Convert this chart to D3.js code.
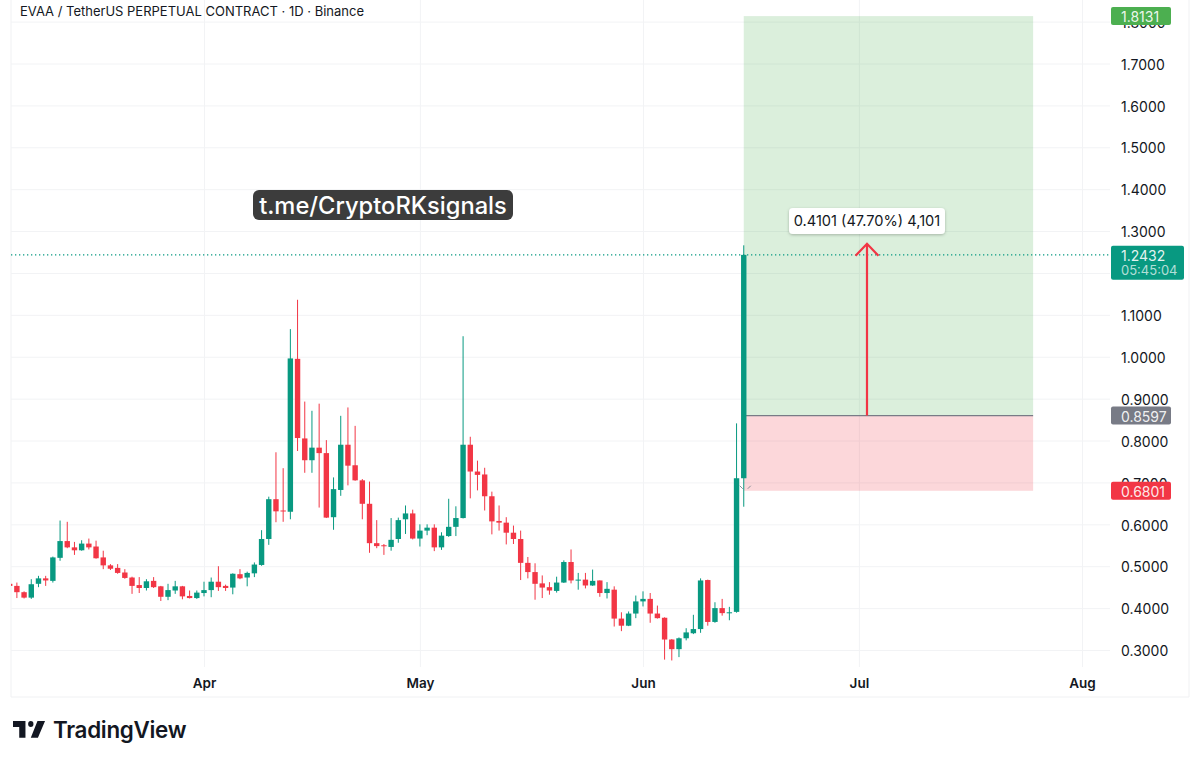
<!DOCTYPE html>
<html>
<head>
<meta charset="utf-8">
<script src="https://cdn.jsdelivr.net/npm/d3@7"></script>
<style>
  html, body { margin: 0; padding: 0; background: #fff; }
  text { font-family: Inter, "Noto Sans", sans-serif; }
</style>
</head>
<body>
<div id="chart"></div>
<script>
// daily candles, Mar 5 to Jun 15
const firstDay = new Date(Date.UTC(2025, 2, 5));

const opens = [
  .458, .453, .438, .425, .458, .471, .465, .520, .560, .545, .538, .554, .547, .521, .502, .496, .485, .473, .455, .448, .465, .452, .427, .442, .452, .429, .424,
  .436, .443, .463, .453, .449, .481, .473, .483, .503, .565, .660, .633, .630, .995, .805, .753, .783, .770, .617, .682, .790, .741, .705, .649, .555, .550, .546, .565, .612, .626,
  .566, .585, .592, .545, .572, .594, .615, .790, .726, .719, .667, .608, .604, .580, .565, .508, .486, .459, .450, .441, .461, .510, .466, .468, .454, .466, .436, .444, .375, .358, .387,
  .416, .422, .387, .377, .325, .302, .328, .340, .350, .467, .367, .400, .388, .391, .710
];
const closes = [
  .453, .438, .425, .457, .471, .466, .521, .560, .545, .538, .554, .545, .519, .502, .494, .484, .472, .453, .448, .464, .450, .427, .443, .452, .428, .424, .437,
  .443, .463, .450, .448, .482, .471, .484, .504, .565, .660, .631, .631, .996, .806, .753, .783, .770, .616, .684, .790, .740, .705, .649, .555, .548, .548, .563, .610, .626, .566,
  .585, .592, .545, .573, .594, .615, .790, .726, .718, .667, .607, .604, .580, .565, .508, .486, .458, .449, .442, .461, .510, .466, .468, .454, .465, .436, .446, .375, .358, .387, .416,
  .422, .387, .376, .325, .302, .328, .342, .350, .466, .367, .400, .388, .390, .710, 1.2432
];
const highs = [
  .459, .461, .440, .469, .477, .477, .523, .609, .606, .558, .562, .566, .561, .537, .505, .505, .493, .475, .474, .469, .474, .453, .458, .465, .453, .442, .442,
  .463, .473, .500, .456, .483, .493, .487, .509, .586, .666, .772, .734, 1.066, 1.136, .893, .871, .888, .801, .712, .859, .879, .835, .708, .702, .610, .553, .615, .616, .645, .635,
  .600, .600, .600, .581, .661, .643, 1.049, .809, .752, .735, .678, .645, .617, .597, .585, .522, .507, .478, .462, .475, .514, .540, .484, .484, .492, .466, .462, .452, .390, .392, .430,
  .440, .436, .406, .378, .326, .330, .352, .384, .471, .468, .414, .422, .403, .841, 1.266
];
const lows = [
  .452, .424, .423, .422, .450, .453, .461, .513, .543, .527, .537, .540, .518, .493, .491, .482, .470, .434, .436, .442, .448, .417, .419, .434, .421, .423, .422,
  .428, .426, .441, .441, .433, .469, .452, .474, .501, .551, .605, .606, .612, .775, .723, .723, .640, .615, .587, .668, .693, .704, .612, .532, .543, .527, .537, .556, .577, .564,
  .547, .574, .536, .539, .570, .572, .614, .662, .681, .633, .576, .585, .552, .553, .467, .471, .420, .424, .432, .437, .460, .459, .444, .447, .453, .427, .423, .356, .345, .357, .376,
  .404, .365, .375, .277, .275, .283, .323, .338, .341, .358, .365, .382, .371, .389, .642
];

const priceTicks = [0.3, 0.4, 0.5, 0.6, 0.7, 0.8, 0.9, 1.0, 1.1, 1.2, 1.3, 1.4, 1.5, 1.6, 1.7, 1.8];
const hiddenTick = 1.2; // sits behind the last price tag
const monthTicks = [new Date(Date.UTC(2025, 3, 1)), new Date(Date.UTC(2025, 4, 1)), new Date(Date.UTC(2025, 5, 1)), new Date(Date.UTC(2025, 6, 1)), new Date(Date.UTC(2025, 7, 1))];

// long position tool
const lastPrice = 1.2432, entry = 0.8597, target = 1.8131, stop = 0.6801;
const toolStart = new Date(Date.UTC(2025, 5, 15)), toolEnd = new Date(Date.UTC(2025, 6, 25, 5));
const arrowTop = 1.2695, arrowDay = new Date(Date.UTC(2025, 6, 2, 3));

const width = 1200, height = 761;
const green = "#089981", red = "#f23645";

const svg = d3.select("#chart").append("svg")
  .attr("width", width)
  .attr("height", height)
  .style("display", "block");

const x = d3.scaleUtc().domain([monthTicks[0], monthTicks[4]]).range([204, 1082]);
const y = d3.scaleLinear().domain([0.3, 1.7]).range([650, 63.5]);

svg.append("defs").append("clipPath").attr("id", "pane")
  .append("rect").attr("x", 11).attr("y", 0).attr("width", 1099).attr("height", 667);

const candles = opens.map((o, i) => ({
  day: d3.utcDay.offset(firstDay, i), o, c: closes[i], h: highs[i], l: lows[i]
}));

// pane border
svg.append("path")
  .attr("d", "M11,0V697H1189V0")
  .attr("fill", "none")
  .attr("stroke", "#f0f1f3");

// grid
const gridY = svg.append("g").attr("transform", "translate(11,0)")
  .call(d3.axisRight(y).tickValues(priceTicks).tickSize(1099).tickFormat(""));
gridY.select(".domain").remove();
gridY.selectAll("line").attr("stroke", "#f2f3f5");

const gridX = svg.append("g").attr("transform", "translate(0,0)")
  .call(d3.axisBottom(x).tickValues(monthTicks).tickSize(667).tickFormat(""));
gridX.select(".domain").remove();
gridX.selectAll("line").attr("stroke", "#f2f3f5");

// position zones
svg.append("rect")
  .attr("x", x(toolStart)).attr("width", x(toolEnd) - x(toolStart))
  .attr("y", y(target)).attr("height", y(entry) - y(target))
  .attr("fill", "rgba(76,175,80,0.2)");
svg.append("rect")
  .attr("x", x(toolStart)).attr("width", x(toolEnd) - x(toolStart))
  .attr("y", y(entry)).attr("height", y(stop) - y(entry))
  .attr("fill", "rgba(242,54,69,0.2)");
svg.append("line")
  .attr("x1", x(toolStart)).attr("x2", x(toolEnd))
  .attr("y1", y(entry)).attr("y2", y(entry))
  .attr("stroke", "#787b86").attr("stroke-width", 1.2);

// last price line
svg.append("line")
  .attr("x1", 11).attr("x2", 1110)
  .attr("y1", y(lastPrice)).attr("y2", y(lastPrice))
  .attr("stroke", green).attr("stroke-width", 1.3).attr("stroke-dasharray", "1.3 2.7");

// candles
const candleG = svg.append("g").attr("clip-path", "url(#pane)");
candleG.selectAll(".wick")
  .data(candles)
  .join("line")
  .attr("class", "wick")
  .attr("x1", d => x(d.day)).attr("x2", d => x(d.day))
  .attr("y1", d => y(d.h)).attr("y2", d => y(d.l))
  .attr("stroke", d => d.c >= d.o ? green : red);
candleG.selectAll(".body")
  .data(candles)
  .join("rect")
  .attr("class", "body")
  .attr("x", d => x(d.day) - 2.7)
  .attr("width", 5.4)
  .attr("y", d => y(Math.max(d.o, d.c)))
  .attr("height", d => Math.max(1, Math.abs(y(d.o) - y(d.c))))
  .attr("fill", d => d.c >= d.o ? green : red);

// little handles of the tool next to the stop line
svg.append("path")
  .attr("d", `M${x(toolStart) - 4},${y(stop) - 5}l3,3M${x(toolStart) + 4},${y(stop) - 2}l3,-3`)
  .attr("fill", "none")
  .attr("stroke", "#8a8d96");

// arrow
const ax = x(arrowDay), ay = y(arrowTop);
svg.append("path")
  .attr("d", `M${ax},${y(entry)}V${ay}M${ax - 11.5},${ay + 12}L${ax},${ay}L${ax + 11.5},${ay + 12}`)
  .attr("fill", "none")
  .attr("stroke", red)
  .attr("stroke-width", 2.2);

// arrow label
const shadow = svg.select("defs").append("filter").attr("id", "shadow")
  .attr("x", "-10%").attr("y", "-30%").attr("width", "120%").attr("height", "170%");
shadow.append("feDropShadow")
  .attr("dx", 0).attr("dy", 1).attr("stdDeviation", 1.5)
  .attr("flood-color", "#000").attr("flood-opacity", 0.25);
svg.append("rect")
  .attr("x", 789).attr("y", 208).attr("width", 156).attr("height", 26).attr("rx", 4)
  .attr("fill", "#fff").attr("filter", "url(#shadow)");
svg.append("text")
  .attr("x", 867).attr("y", 225.5)
  .attr("text-anchor", "middle")
  .attr("font-size", 14.6)
  .attr("fill", "#131722")
  .text("0.4101 (47.70%) 4,101");

// price axis
const axisY = svg.append("g").attr("transform", "translate(1110,1.2)")
  .call(d3.axisRight(y).tickValues(priceTicks).tickSize(0).tickPadding(11)
    .tickFormat(d => d === hiddenTick ? "" : d3.format(".4f")(d)));
axisY.select(".domain").remove();
axisY.selectAll("text").attr("font-size", 14).attr("fill", "#131722").style("font-family", "Inter");

// time axis
const axisX = svg.append("g").attr("transform", "translate(0,668.5)")
  .call(d3.axisBottom(x).tickValues(monthTicks).tickSize(0).tickPadding(10).tickFormat(d3.utcFormat("%b")));
axisX.select(".domain").remove();
axisX.selectAll("text").attr("font-size", 13.5).attr("font-weight", 600).attr("fill", "#131722").style("font-family", "Inter");

// price tags
const tags = [
  { v: target, w: 60, fill: "#4caf50" },
  { v: entry, w: 60, fill: "#787b86" },
  { v: stop, w: 60, fill: red }
];
tags.forEach(t => {
  svg.append("rect")
    .attr("x", 1111).attr("y", y(t.v) - 9).attr("width", t.w).attr("height", 18).attr("rx", 2)
    .attr("fill", t.fill);
  svg.append("text")
    .attr("x", 1121).attr("y", y(t.v) + 6)
    .attr("font-size", 14).attr("fill", "#fff").attr("fill-opacity", 0.9)
    .text(t.v.toFixed(4));
});
svg.append("rect")
  .attr("x", 1111).attr("y", y(lastPrice) - 9).attr("width", 73).attr("height", 34).attr("rx", 2)
  .attr("fill", green);
svg.append("text")
  .attr("x", 1121).attr("y", y(lastPrice) + 6)
  .attr("font-size", 14).attr("fill", "#fff").attr("fill-opacity", 0.9)
  .text(lastPrice.toFixed(4));
svg.append("text")
  .attr("x", 1121).attr("y", y(lastPrice) + 20.5)
  .attr("font-size", 13).attr("fill", "#fff").attr("fill-opacity", 0.7)
  .text("05:45:04");

// title
svg.append("text")
  .attr("x", 20).attr("y", 16)
  .attr("font-size", 13)
  .attr("fill", "#131722")
  .text("EVAA / TetherUS PERPETUAL CONTRACT · 1D · Binance");

// watermark label
svg.append("rect")
  .attr("x", 253).attr("y", 190).attr("width", 260).attr("height", 30).attr("rx", 6)
  .attr("fill", "#3c3c3c");
svg.append("text")
  .attr("x", 383).attr("y", 214)
  .attr("text-anchor", "middle")
  .attr("font-size", 23.7)
  .attr("font-weight", 500)
  .attr("fill", "#fff")
  .text("t.me/CryptoRKsignals");

// logo
const logo = svg.append("g").attr("transform", "translate(13,713.2) scale(0.89,0.98)");
logo.append("path").attr("d", "M14 25H7V14H0V8h14v17zM28 25h-8l7.5-17H36l-8 17z").attr("fill", "#131722");
logo.append("circle").attr("cx", 20).attr("cy", 11).attr("r", 3).attr("fill", "#131722");
svg.append("text")
  .attr("x", 53).attr("y", 738)
  .attr("font-size", 22.4)
  .attr("font-weight", 600)
  .attr("letter-spacing", -0.3)
  .attr("fill", "#131722")
  .text("TradingView");
</script>
</body>
</html>
